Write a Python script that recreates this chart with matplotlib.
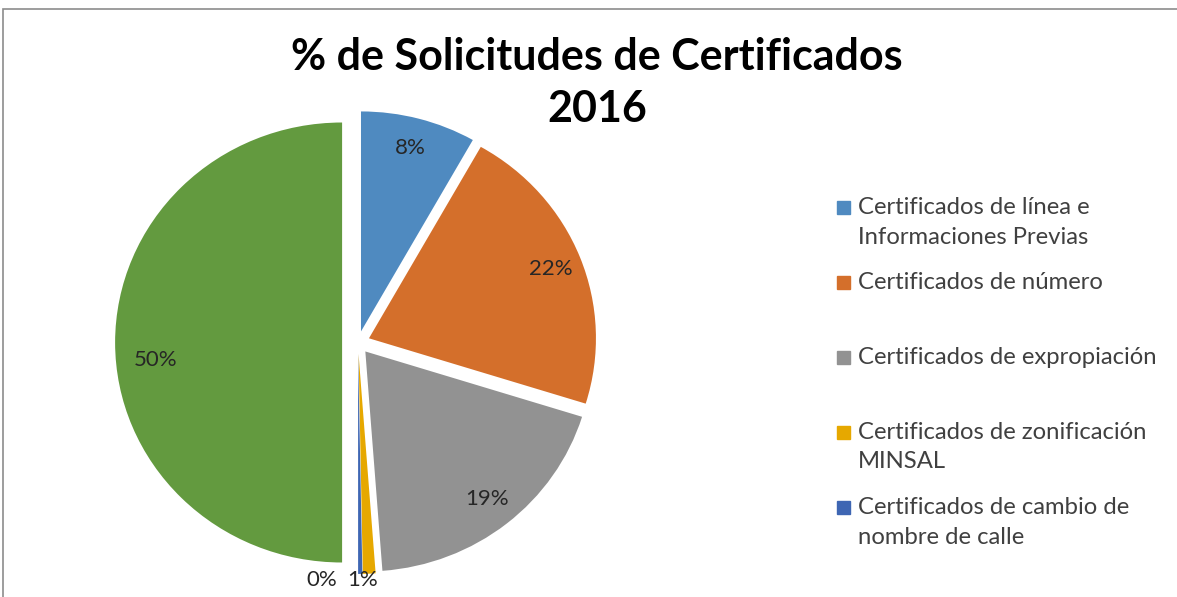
import matplotlib
matplotlib.use('Agg')
import matplotlib.pyplot as plt
from matplotlib.patches import Rectangle

plt.rcParams['font.family'] = ['Lato', 'DejaVu Sans']

# data (percent of requests)
categorias = ['Certificados de línea e\nInformaciones Previas',
              'Certificados de número',
              'Certificados de expropiación',
              'Certificados de zonificación\nMINSAL',
              'Certificados de cambio de\nnombre de calle',
              'Otros']
valores = [8.2, 21.6, 19.0, 0.9, 0.3, 50.0]
colores = ['#4F8AC0', '#D46F2B', '#929292', '#E6A800', '#3E66B3', '#639A3F']
separacion = [0.052, 0.052, 0.052, 0.052, 0.052, 0.07]

fig = plt.figure(figsize=(11.77, 5.97), dpi=100)

# frame of the chart area
fig.patches.append(Rectangle((3 / 1177, -0.1), 1.2, 1 - 9 / 597 + 0.1,
                             transform=fig.transFigure, fill=False,
                             edgecolor='#8C8C8C', lw=1.2))

# pie is slightly wider than tall in the original
ax = fig.add_axes([0.1113, 0.0578, 0.3857, 0.737])
wedges, texts, autotexts = ax.pie(valores, colors=colores, startangle=90,
                                  counterclock=False, explode=separacion,
                                  autopct=lambda p: '{:.0f}%'.format(p),
                                  pctdistance=0.86,
                                  textprops={'fontsize': 16, 'color': '#262626'},
                                  wedgeprops={'linewidth': 0})
ax.set_xlim(-1, 1)
ax.set_ylim(-1, 1)
ax.set_aspect('auto')
ax.axis('off')
for w in wedges:
    w.set_clip_on(False)
for t in autotexts:
    t.set_clip_on(False)

# small slices labelled below the pie, big slice label a bit lower
autotexts[3].set_position((0.02, -1.08))
autotexts[4].set_position((-0.16, -1.08))
x5, y5 = autotexts[5].get_position()
autotexts[5].set_position((x5 + 0.04, y5 - 0.08))

fig.text(597 / 1177, 1 - 83 / 597, '% de Solicitudes de Certificados\n2016',
         ha='center', va='center', fontsize=31, fontweight='bold',
         linespacing=1.38, color='black')

# legend (green series not shown in the original)
centros = [207, 282, 357, 432, 507]
for i, c in enumerate(centros):
    fig.patches.append(Rectangle((837 / 1177, 1 - (c + 6.5) / 597), 13 / 1177, 13 / 597,
                                 transform=fig.transFigure, color=colores[i]))
    fig.text(858 / 1177, 1 - (c - 10) / 597, categorias[i], ha='left', va='top',
             fontsize=17.2, color='#404040', linespacing=1.5)

fig.savefig('out.png', dpi=100)
